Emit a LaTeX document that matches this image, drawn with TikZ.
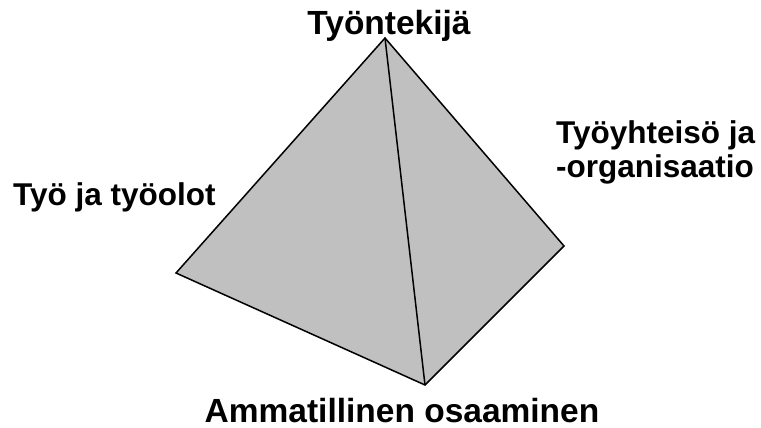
\documentclass[tikz,border=0pt]{standalone}
\usepackage{fontspec}
\setmainfont{Liberation Sans}
\usepackage{tikz}
\usetikzlibrary{positioning}
\definecolor{pyrgray}{RGB}{192,192,192}

\begin{document}
\begin{tikzpicture}[
  x=1pt, y=-1pt,
  face/.style={draw=black, fill=pyrgray, line width=1.5pt, line join=miter},
  edge/.style={draw=black, line width=1.5pt},
  lab/.style={font=\fontsize{33.5}{34}\selectfont\bfseries, inner sep=0pt, anchor=base},
  sidelab/.style={lab, font=\fontsize{31.5}{34}\selectfont\bfseries, anchor=base west}
]
\useasboundingbox (0,0) rectangle (761,428);
% Corners of the pyramid
\coordinate (apex)   at (385,38);
\coordinate (left)   at (176,273);
\coordinate (bottom) at (425,385);
\coordinate (right)  at (564,246);
% Faces
\path[face] (apex) -- (left) -- (bottom) -- (right) -- cycle;
\draw[edge] (apex) -- (bottom);
% Labels
\node[lab] (worker) at (389,35) {Työntekijä};
\node[sidelab] (work) at (13,205) {Työ ja työolot};
\node[sidelab, align=left] (org) at (556,177)
  {Työyhteisö ja\\-organisaatio};
\node[lab] (skill) at (402,422) {Ammatillinen osaaminen};
\end{tikzpicture}
\end{document}
